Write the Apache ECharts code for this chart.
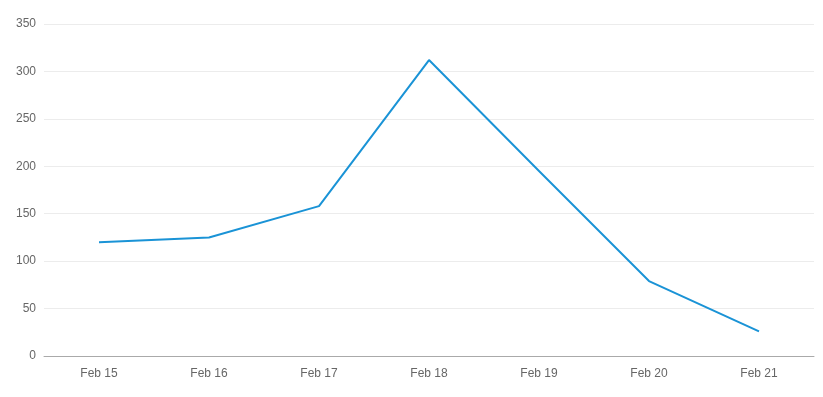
<!DOCTYPE html>
<html><head><meta charset="utf-8">
<script src="https://cdn.jsdelivr.net/npm/echarts@6/dist/echarts.min.js"></script>
<style>html,body{margin:0;padding:0;background:#fff}#c{width:823px;height:397px}</style>
</head><body><div id="c"></div>
<script>
const categories = ['Feb 15','Feb 16','Feb 17','Feb 18','Feb 19','Feb 20','Feb 21'];
const values = [120, 125, 158, 312, 195, 79, 26];
const yTicks = {min: 0, max: 350, interval: 50};
const chart = echarts.init(document.getElementById('c'));
chart.setOption({
  animation: false,
  grid: {left: 44, right: 9, top: 24, bottom: 41, containLabel: false},
  xAxis: {
    type: 'category', data: categories, boundaryGap: true,
    axisLine: {lineStyle: {color: '#aaaaaa'}},
    axisTick: {alignWithLabel: true, length: 5, lineStyle: {color: '#aaaaaa'}},
    axisLabel: {color: '#666', fontSize: 12, fontFamily: 'Arial, Liberation Sans, sans-serif', margin: 12},
    splitLine: {show: false}
  },
  yAxis: {
    type: 'value', min: yTicks.min, max: yTicks.max, interval: yTicks.interval,
    axisLine: {show: false}, axisTick: {show: false},
    axisLabel: {color: '#666', fontSize: 12, fontFamily: 'Arial, Liberation Sans, sans-serif', margin: 8},
    splitLine: {lineStyle: {color: '#ececec'}}
  },
  series: [{
    type: 'line', data: values, symbol: 'none', showSymbol: false,
    lineStyle: {color: '#1a93d6', width: 2}
  }]
});
</script></body></html>
